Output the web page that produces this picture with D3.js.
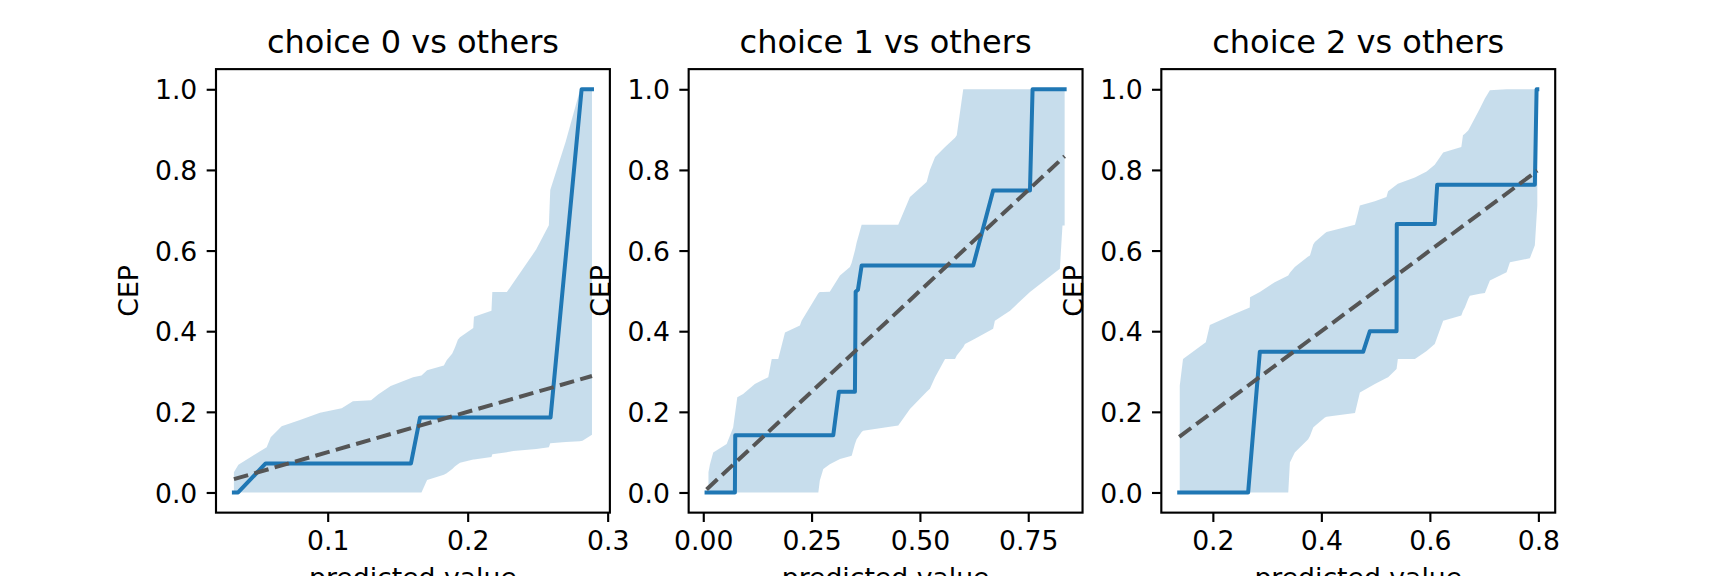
<!DOCTYPE html>
<html>
<head>
<meta charset="utf-8">
<script src="https://cdn.jsdelivr.net/npm/d3@7"></script>
<style>
    body { margin: 0; overflow: hidden; background: #fff; }
    svg { display: block; font-family: "DejaVu Sans", sans-serif; }
</style>
</head>
<body>
<div id="chart"></div>
<script>
// ---- data ----
const titles = ["choice 0 vs others", "choice 1 vs others", "choice 2 vs others"];
const yTicks = [0.0, 0.2, 0.4, 0.6, 0.8, 1.0];

// choice 0
const xTicks0 = [0.1, 0.2, 0.3];
const curveX0 = [0.033, 0.036, 0.0557, 0.1595, 0.166, 0.2592, 0.2814, 0.2888];
const curveY0 = [0, 0, 0.072, 0.072, 0.186, 0.186, 1.0, 1.0];
const diag0 = [0.033, 0.2888];
const bandX0 = [0.033, 0.0362, 0.0564, 0.0593, 0.0671, 0.0802, 0.0945, 0.110, 0.118, 0.131, 0.136, 0.145,
    0.161, 0.167, 0.171, 0.183, 0.185, 0.189, 0.191, 0.193, 0.1945, 0.204, 0.2045, 0.217, 0.2176, 0.228,
    0.2326, 0.249, 0.258, 0.259, 0.270, 0.280, 0.282, 0.2888];
const bandLo0 = [0, 0, 0, 0, 0, 0, 0, 0, 0, 0, 0, 0,
    0, 0, 0.031, 0.044, 0.048, 0.058, 0.065, 0.07, 0.074, 0.082, 0.082, 0.088, 0.095, 0.1,
    0.103, 0.108, 0.112, 0.122, 0.125, 0.127, 0.128, 0.143];
const bandHi0 = [0.05, 0.069, 0.112, 0.137, 0.164, 0.18, 0.198, 0.209, 0.226, 0.229, 0.243, 0.264,
    0.286, 0.29, 0.303, 0.315, 0.328, 0.345, 0.36, 0.379, 0.385, 0.408, 0.436, 0.451, 0.497, 0.497,
    0.52, 0.603, 0.663, 0.75, 0.87, 0.995, 1.0, 1.0];

// choice 1
const xTicks1 = [0.00, 0.25, 0.50, 0.75];
const curveX1 = [0.0076, 0.073, 0.0738, 0.300, 0.313, 0.350, 0.3517, 0.357, 0.3655, 0.623, 0.669, 0.754, 0.760, 0.834];
const curveY1 = [0, 0, 0.142, 0.142, 0.25, 0.25, 0.498, 0.503, 0.563, 0.563, 0.749, 0.749, 1.0, 1.0];
const diag1 = [0.0076, 0.834];
const bandX1 = [0.012, 0.0155, 0.023, 0.054, 0.069, 0.0785, 0.092, 0.119, 0.150, 0.158, 0.173, 0.1886,
    0.223, 0.227, 0.2655, 0.269, 0.277, 0.292, 0.3155, 0.3385, 0.3425, 0.350, 0.354, 0.3655, 0.369,
    0.419, 0.450, 0.477, 0.5156, 0.523, 0.535, 0.558, 0.581, 0.585, 0.600, 0.604, 0.627, 0.669, 0.673,
    0.708, 0.754, 0.823, 0.829, 0.834];
const bandLo1 = [0, 0, 0, 0, 0, 0, 0, 0, 0, 0, 0, 0,
    0, 0, 0, 0.03, 0.058, 0.07, 0.083, 0.09, 0.091, 0.12, 0.132, 0.15, 0.153,
    0.161, 0.166, 0.207, 0.25, 0.257, 0.286, 0.331, 0.331, 0.34, 0.36, 0.368, 0.381, 0.406, 0.426,
    0.451, 0.497, 0.555, 0.662, 0.662];
const bandHi1 = [0.05, 0.070, 0.099, 0.12, 0.161, 0.236, 0.244, 0.269, 0.286, 0.331, 0.331, 0.397,
    0.414, 0.426, 0.494, 0.497, 0.497, 0.498, 0.538, 0.559, 0.57, 0.600, 0.62, 0.664, 0.664,
    0.664, 0.664, 0.733, 0.77, 0.8, 0.832, 0.857, 0.88, 0.886, 1.0, 1.0, 1.0, 1.0, 1.0,
    1.0, 1.0, 1.0, 1.0, 1.0];

// choice 2
const xTicks2 = [0.2, 0.4, 0.6, 0.8];
const curveX2 = [0.138, 0.265, 0.2866, 0.477, 0.4894, 0.5386, 0.539, 0.609, 0.6135, 0.7935, 0.7967, 0.798];
const curveY2 = [0, 0, 0.349, 0.349, 0.400, 0.400, 0.666, 0.666, 0.763, 0.763, 1.0, 1.0];
const diag2 = [0.138, 0.798];
const bandX2 = [0.139, 0.145, 0.187, 0.1945, 0.2406, 0.268, 0.2685, 0.2866, 0.314, 0.339, 0.342, 0.351,
    0.3757, 0.379, 0.385, 0.388, 0.4065, 0.4096, 0.462, 0.471, 0.4986, 0.52, 0.523, 0.5386, 0.541,
    0.5724, 0.594, 0.609, 0.6245, 0.658, 0.661, 0.6645, 0.6706, 0.6737, 0.692, 0.7014, 0.7106,
    0.7414, 0.7475, 0.7843, 0.7935, 0.798];
const bandLo2 = [0, 0, 0, 0, 0, 0, 0, 0, 0, 0, 0.0745, 0.099,
    0.132, 0.14, 0.161, 0.165, 0.186, 0.188, 0.197, 0.248, 0.269, 0.284, 0.286, 0.306, 0.331,
    0.331, 0.351, 0.368, 0.426, 0.439, 0.45, 0.459, 0.48, 0.488, 0.493, 0.495, 0.526,
    0.546, 0.571, 0.581, 0.613, 0.712];
const bandHi2 = [0.265, 0.331, 0.3725, 0.4156, 0.443, 0.459, 0.484, 0.497, 0.5215, 0.538, 0.545, 0.559,
    0.585, 0.588, 0.615, 0.621, 0.643, 0.646, 0.664, 0.712, 0.722, 0.733, 0.747, 0.763, 0.766,
    0.781, 0.796, 0.813, 0.843, 0.857, 0.886, 0.89, 0.898, 0.905, 0.952, 0.977, 0.9975,
    1.0, 1.0, 1.0, 1.0, 1.0];

const panels = [
    { title: titles[0], xTicks: xTicks0, fmt: ".1f", cx: curveX0, cy: curveY0, diag: diag0, bx: bandX0, lo: bandLo0, hi: bandHi0 },
    { title: titles[1], xTicks: xTicks1, fmt: ".2f", cx: curveX1, cy: curveY1, diag: diag1, bx: bandX1, lo: bandLo1, hi: bandHi1 },
    { title: titles[2], xTicks: xTicks2, fmt: ".1f", cx: curveX2, cy: curveY2, diag: diag2, bx: bandX2, lo: bandLo2, hi: bandHi2 }
];

// ---- layout (matplotlib default subplot params at 192 dpi) ----
const W = 1728, H = 576;
const mLeft = 0.125 * W, mRight = 0.9 * W, mTop = 0.12 * H, mBottom = 0.89 * H;
const panelW = (mRight - mLeft) / (3 + 2 * 0.2);
const gap = panelW * 0.2;
const panelH = mBottom - mTop;
const pt = 192 / 72;

const svg = d3.select("#chart").append("svg")
    .attr("width", W)
    .attr("height", H);

panels.forEach((p, i) => {
    const g = svg.append("g")
        .attr("transform", `translate(${mLeft + i * (panelW + gap)},${mTop})`);

    // 5% margins like matplotlib autoscale
    const [x0, x1] = d3.extent(p.cx.concat(p.bx));
    const padX = (x1 - x0) * 0.05;
    const xScale = d3.scaleLinear().domain([x0 - padX, x1 + padX]).range([0, panelW]);
    const yScale = d3.scaleLinear().domain([-0.05, 1.05]).range([panelH, 0]);

    // confidence band
    const area = d3.area()
        .x((d, j) => xScale(p.bx[j]))
        .y0((d, j) => yScale(p.lo[j]))
        .y1((d, j) => yScale(p.hi[j]));
    g.append("path")
        .attr("d", area(p.bx))
        .attr("fill", "#1f77b4")
        .attr("fill-opacity", 0.25);

    // CEP curve
    const line = d3.line()
        .x((d, j) => xScale(p.cx[j]))
        .y((d, j) => yScale(p.cy[j]));
    g.append("path")
        .attr("d", line(p.cx))
        .attr("fill", "none")
        .attr("stroke", "#1f77b4")
        .attr("stroke-width", 1.5 * pt)
        .attr("stroke-linejoin", "round")
        .attr("stroke-linecap", "square");

    // identity reference
    g.append("line")
        .attr("x1", xScale(p.diag[0])).attr("y1", yScale(p.diag[0]))
        .attr("x2", xScale(p.diag[1])).attr("y2", yScale(p.diag[1]))
        .attr("stroke", "#555555")
        .attr("stroke-width", 1.5 * pt)
        .attr("stroke-dasharray", `${3.7 * 1.5 * pt},${1.6 * 1.5 * pt}`);

    // axes
    const xAxis = d3.axisBottom(xScale)
        .tickValues(p.xTicks)
        .tickFormat(d3.format(p.fmt))
        .tickSize(3.5 * pt)
        .tickPadding(9.4);
    const yAxis = d3.axisLeft(yScale)
        .tickValues(yTicks)
        .tickFormat(d3.format(".1f"))
        .tickSize(3.5 * pt)
        .tickPadding(3.5 * pt);

    const gx = g.append("g")
        .attr("transform", `translate(0,${panelH})`)
        .call(xAxis);
    const gy = g.append("g").call(yAxis);

    [gx, gy].forEach(a => {
        a.select(".domain").remove();
        a.attr("font-family", "DejaVu Sans").attr("font-size", 10 * pt);
        a.selectAll(".tick line").attr("stroke", "#000").attr("stroke-width", 0.8 * pt);
        a.selectAll(".tick text").attr("fill", "#000");
    });
    gy.selectAll(".tick text").attr("dy", "0.36em");

    // spines
    g.append("rect")
        .attr("width", panelW)
        .attr("height", panelH)
        .attr("fill", "none")
        .attr("stroke", "#000")
        .attr("stroke-width", 0.8 * pt);

    // title
    g.append("text")
        .attr("x", panelW / 2)
        .attr("y", -6 * pt)
        .attr("text-anchor", "middle")
        .attr("font-size", 12 * pt)
        .text(p.title);

    // axis labels (x label falls mostly below the page edge, as in the original)
    g.append("text")
        .attr("x", panelW / 2)
        .attr("y", panelH + 74)
        .attr("text-anchor", "middle")
        .attr("font-size", 10 * pt)
        .text("predicted value");

    g.append("text")
        .attr("transform", `translate(-78.5,${panelH / 2}) rotate(-90)`)
        .attr("text-anchor", "middle")
        .attr("font-size", 10 * pt)
        .text("CEP");
});
</script>
</body>
</html>
